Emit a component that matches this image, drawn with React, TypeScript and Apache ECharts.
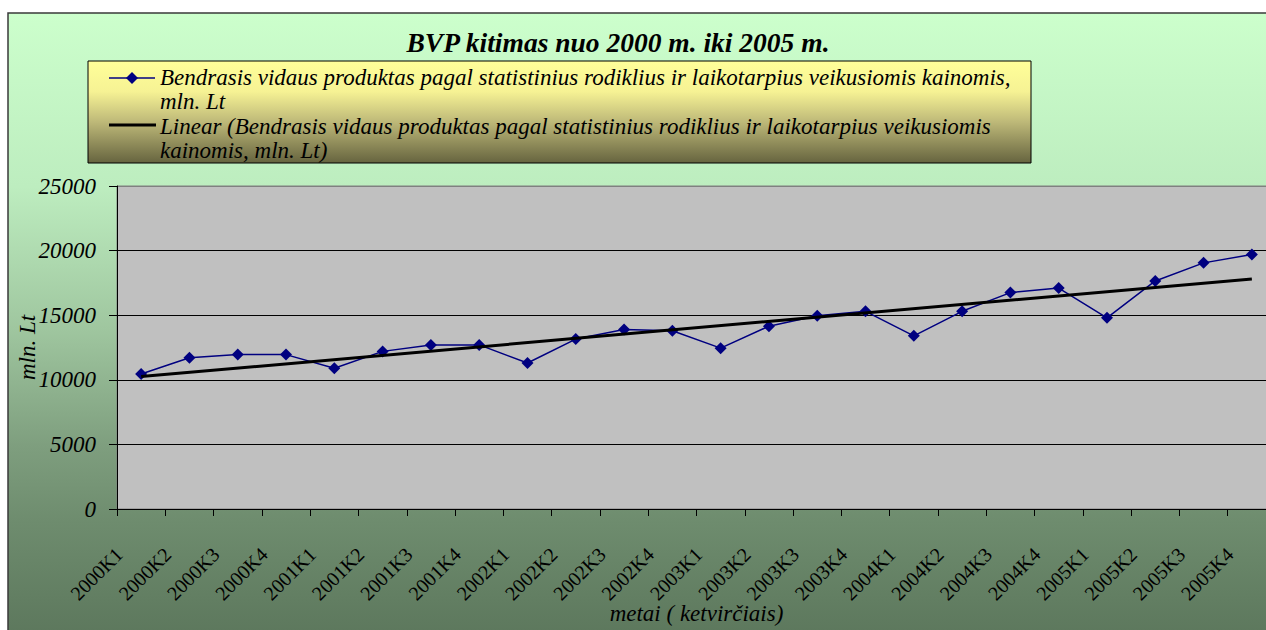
import React, { useEffect, useRef } from "react";
import * as echarts from "echarts";

const categories = [
  "2000K1", "2000K2", "2000K3", "2000K4",
  "2001K1", "2001K2", "2001K3", "2001K4",
  "2002K1", "2002K2", "2002K3", "2002K4",
  "2003K1", "2003K2", "2003K3", "2003K4",
  "2004K1", "2004K2", "2004K3", "2004K4",
  "2005K1", "2005K2", "2005K3", "2005K4",
];

const gdpValues = [
  10450, 11700, 11950, 11950,
  10900, 12200, 12700, 12700,
  11300, 13150, 13900, 13800,
  12450, 14150, 14950, 15300,
  13400, 15300, 16750, 17100,
  14800, 17650, 19050, 19700,
];

// Linear trend end points
const trendStart = 10250;
const trendEnd = 17800;

const yTicks = { min: 0, max: 25000, interval: 5000 };

const titleText = "BVP kitimas nuo 2000 m. iki 2005 m.";
const legendLines1 = [
  "Bendrasis vidaus produktas pagal statistinius rodiklius ir laikotarpius veikusiomis kainomis,",
  "mln. Lt",
];
const legendLines2 = [
  "Linear (Bendrasis vidaus produktas pagal statistinius rodiklius ir laikotarpius veikusiomis",
  "kainomis, mln. Lt)",
];
const yAxisName = "mln. Lt";
const xAxisName = "metai ( ketvirčiais)";

const FONT = "'Liberation Serif', 'Times New Roman', serif";

export default function App() {
  const ref = useRef<HTMLDivElement>(null);

  useEffect(() => {
    if (!ref.current) return;
    const chart = echarts.init(ref.current, undefined, { renderer: "svg" });

    const legendText = (lines: string[], y: number) =>
      lines.map((t, i) => ({
        type: "text",
        z: 110,
        style: {
          x: 160,
          y: y + i * 24.5,
          text: t,
          fill: "#000",
          font: `italic 23px ${FONT}`,
          textVerticalAlign: "middle",
          verticalAlign: "middle",
        },
      }));

    const option: any = {
      animation: false,
      title: {
        text: titleText,
        left: 613,
        top: 24,
        textAlign: "center",
        textStyle: {
          fontFamily: FONT,
          fontStyle: "italic",
          fontWeight: "bold",
          fontSize: 27.5,
          color: "#000",
        },
      },
      grid: {
        left: 117,
        top: 186,
        width: 1159,
        height: 323,
        show: true,
        backgroundColor: "#C0C0C0",
        borderColor: "#808080",
        borderWidth: 1,
        containLabel: false,
        outerBoundsMode: "none",
      },
      xAxis: {
        type: "category",
        data: categories,
        boundaryGap: true,
        name: xAxisName,
        nameLocation: "middle",
        nameGap: 93,
        nameMoveOverlap: false,
        nameTextStyle: {
          fontFamily: FONT,
          fontStyle: "italic",
          fontSize: 23,
          color: "#000",
        },
        axisLine: { show: true, lineStyle: { color: "#000", width: 1 } },
        axisTick: { show: true, length: 7, lineStyle: { color: "#000" } },
        axisLabel: {
          interval: 0,
          rotate: 45,
          margin: 20,
          color: "#000",
          fontFamily: FONT,
          fontSize: 20,
          formatter: (v: string) => `{a|${v}}`,
          rich: {
            a: {
              fontFamily: FONT,
              fontSize: 20,
              color: "#000",
              padding: [0, 31, 0, 0],
            },
          },
        },
        splitLine: { show: false },
      },
      yAxis: {
        type: "value",
        min: yTicks.min,
        max: yTicks.max,
        interval: yTicks.interval,
        name: yAxisName,
        nameLocation: "middle",
        nameGap: 78,
        nameRotate: 90,
        nameMoveOverlap: false,
        nameTextStyle: {
          fontFamily: FONT,
          fontStyle: "italic",
          fontSize: 23,
          color: "#000",
        },
        axisLine: { show: true, lineStyle: { color: "#000", width: 1 } },
        axisTick: { show: true, length: 8, lineStyle: { color: "#000" } },
        axisLabel: {
          margin: 21,
          color: "#000",
          fontFamily: FONT,
          fontStyle: "italic",
          fontSize: 23,
          formatter: (v: number) => String(v),
        },
        splitLine: {
          show: true,
          lineStyle: {
            color: ["#000", "#000", "#000", "#000", "#000", "#808080"],
            width: 1,
          },
        },
      },
      series: [
        {
          name: legendLines1.join(" "),
          type: "line",
          data: gdpValues,
          symbol: "diamond",
          symbolSize: 12,
          lineStyle: { color: "#000080", width: 1.5 },
          itemStyle: { color: "#000080" },
          z: 3,
        },
        {
          name: legendLines2.join(" "),
          type: "line",
          data: [
            [categories[0], trendStart],
            [categories[categories.length - 1], trendEnd],
          ],
          symbol: "none",
          lineStyle: { color: "#000", width: 3 },
          z: 4,
        },
      ],
      graphic: [
        {
          type: "rect",
          z: -100,
          silent: true,
          shape: { x: 8, y: 13, width: 1290, height: 620 },
          style: {
            fill: {
              type: "linear",
              x: 0,
              y: 0,
              x2: 0,
              y2: 1,
              colorStops: [
                { offset: 0, color: "#CCFFCC" },
                { offset: 0.28, color: "#BDEDBF" },
                { offset: 0.51, color: "#9FC69F" },
                { offset: 0.7, color: "#7E9E7E" },
                { offset: 0.82, color: "#6E8C6E" },
                { offset: 1, color: "#5D785D" },
              ],
            },
            stroke: "#3A3A3A",
            lineWidth: 1.5,
          },
        },
        {
          type: "rect",
          z: 100,
          silent: true,
          shape: { x: 88, y: 61, width: 943, height: 102 },
          style: {
            fill: {
              type: "linear",
              x: 0,
              y: 0,
              x2: 0,
              y2: 1,
              colorStops: [
                { offset: 0, color: "#FFFF99" },
                { offset: 0.3, color: "#F6F294" },
                { offset: 0.6, color: "#BDB878" },
                { offset: 1, color: "#66643F" },
              ],
            },
            stroke: "#000",
            lineWidth: 1,
          },
        },
        {
          type: "line",
          z: 105,
          shape: { x1: 109, y1: 78, x2: 155, y2: 78 },
          style: { stroke: "#000080", lineWidth: 1.5 },
        },
        {
          type: "polygon",
          z: 106,
          shape: {
            points: [
              [132, 72],
              [138, 78],
              [132, 84],
              [126, 78],
            ],
          },
          style: { fill: "#000080" },
        },
        {
          type: "line",
          z: 105,
          shape: { x1: 109, y1: 125, x2: 156, y2: 125 },
          style: { stroke: "#000", lineWidth: 3 },
        },
        ...legendText(legendLines1, 77),
        ...legendText(legendLines2, 126),
      ],
    };

    chart.setOption(option);
    return () => chart.dispose();
  }, []);

  return (
    <div
      ref={ref}
      style={{ position: "absolute", left: 0, top: 0, width: 1266, height: 630 }}
    />
  );
}
